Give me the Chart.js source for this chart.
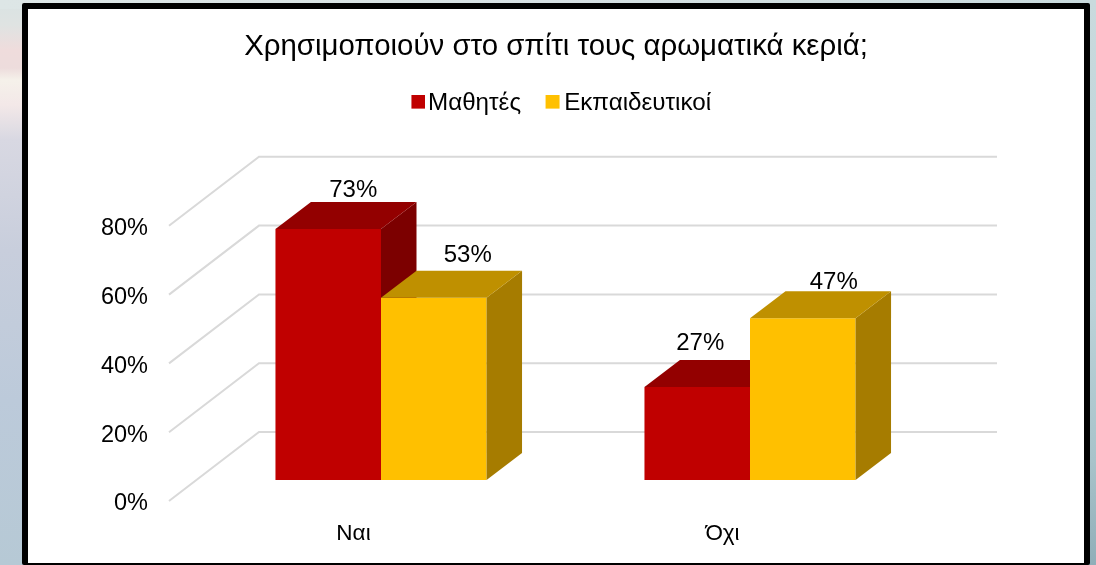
<!DOCTYPE html>
<html>
<head>
<meta charset="utf-8">
<script src="https://cdn.jsdelivr.net/npm/chart.js@4"></script>
<style>
html,body{margin:0;padding:0;width:1096px;height:565px;overflow:hidden}
body{position:relative;background:
 linear-gradient(180deg,#d9e3e3 0,#dfe3e2 25px,#efdcdc 50px,#eddcdc 68px,#f5f1ea 80px,#f3e8e8 105px,#d8d8e2 140px,#c8cedc 250px,#bccada 400px,#b6c9d5 565px)}
#right{position:absolute;left:1084px;top:0;width:12px;height:565px;background:linear-gradient(180deg,#c9dadd 0,#bcd2d8 300px,#a8c3ca 460px,#90aeb8 565px)}
#top{position:absolute;left:0;top:0;width:1096px;height:9px;background:linear-gradient(90deg,#dde6e6,#d6e0e2 50%,#c9dadd)}
#frame{position:absolute;left:22px;top:3px;width:1056px;height:554px;border:6px solid #000;border-bottom-width:2px;border-radius:2px;background:#fff}
#c{position:absolute;left:0;top:0;width:1056px;height:554px}
</style>
</head>
<body>
<div id="top"></div><div id="right"></div>
<div id="frame"><canvas id="c" width="1056" height="554"></canvas></div>
<script>
const categories = ['Ναι', 'Όχι'];
const pupils = [73, 27];
const teachers = [53, 47];
const seriesNames = ['Μαθητές', 'Εκπαιδευτικοί'];
const chartTitle = 'Χρησιμοποιούν στο σπίτι τους αρωματικά κεριά;';
const tickStep = 20;
const lastTick = 80;

const FONT = '"Liberation Sans", Arial, sans-serif';
const front = ['#C00000', '#FFC000'];
const topFace = ['#930000', '#BF9000'];
const sideFace = ['#7C0000', '#A67C00'];
const DEPTH_X = 35.5, DEPTH_Y = 27;
const WALL_DX = 90, WALL_DY = 69, FLOOR_DROP = 21, WALL_RIGHT = 969;
// hand-placed data label offsets from the centre of each bar's front-top edge
const labelShift = [[[25, -39], [3, -44]], [[34, -42], [31, -36]]];
const swatchInset = [12, 10];

function swatch(color, inset) {
  const s = document.createElement('canvas');
  s.width = 26; s.height = 18;
  const g = s.getContext('2d');
  g.fillStyle = color; g.fillRect(inset, 0, 14, 14);
  return s;
}
const swatches = front.map((c, i) => swatch(c, swatchInset[i]));

function drawDepth(ctx, meta, i) {
  ctx.save();
  meta.data.forEach(bar => {
    const l = bar.x - bar.width / 2, r = bar.x + bar.width / 2, t = bar.y, b = bar.base;
    ctx.fillStyle = sideFace[i];
    ctx.beginPath();
    ctx.moveTo(r, t); ctx.lineTo(r + DEPTH_X, t - DEPTH_Y);
    ctx.lineTo(r + DEPTH_X, b - DEPTH_Y); ctx.lineTo(r, b);
    ctx.closePath(); ctx.fill();
    ctx.fillStyle = topFace[i];
    ctx.beginPath();
    ctx.moveTo(l, t); ctx.lineTo(l + DEPTH_X, t - DEPTH_Y);
    ctx.lineTo(r + DEPTH_X, t - DEPTH_Y); ctx.lineTo(r, t);
    ctx.closePath(); ctx.fill();
  });
  ctx.restore();
}

const depthPlugin = {
  id: 'depth',
  afterLayout(chart) {
    chart.legend.left += 4;
    chart.legend.right += 4;
  },
  beforeDatasetsDraw(chart) {
    const { ctx, scales: { y }, chartArea } = chart;
    ctx.save();
    ctx.strokeStyle = '#d9d9d9';
    ctx.lineWidth = 2;
    y.ticks.forEach(t => {
      const py = y.getPixelForValue(t.value) + FLOOR_DROP;
      const x0 = chartArea.left - 27.5;
      ctx.beginPath();
      ctx.moveTo(x0, py);
      ctx.lineTo(x0 + WALL_DX, py - WALL_DY);
      ctx.lineTo(WALL_RIGHT, py - WALL_DY);
      ctx.stroke();
    });
    ctx.restore();
    drawDepth(ctx, chart.getDatasetMeta(0), 0);
  },
  afterDatasetDraw(chart, args) {
    if (args.index === 1) drawDepth(chart.ctx, args.meta, 1);
  },
  afterDraw(chart) {
    const { ctx } = chart;
    ctx.save();
    ctx.font = '24px ' + FONT;
    ctx.fillStyle = '#000';
    ctx.textAlign = 'center';
    ctx.textBaseline = 'middle';
    chart.data.datasets.forEach((ds, i) => {
      chart.getDatasetMeta(i).data.forEach((bar, k) => {
        const s = labelShift[i][k];
        ctx.fillText(ds.data[k] + '%', bar.x + s[0], bar.y + s[1]);
      });
    });
    ctx.restore();
  }
};

new Chart(document.getElementById('c'), {
  type: 'bar',
  data: {
    labels: categories,
    datasets: [
      { label: seriesNames[0], data: pupils, backgroundColor: front[0] },
      { label: seriesNames[1], data: teachers, backgroundColor: front[1] }
    ]
  },
  options: {
    responsive: false,
    animation: false,
    layout: { padding: { left: 0, right: 0, top: 0, bottom: 18 } },
    datasets: { bar: { categoryPercentage: 0.572, barPercentage: 1 } },
    scales: {
      x: {
        afterFit(s) { s.height = 65; },
        grid: { display: false, drawTicks: false },
        border: { display: false },
        ticks: { color: '#000', font: { family: FONT, size: 22.5 }, padding: 40, labelOffset: -27.5, maxRotation: 0 }
      },
      y: {
        min: 0, max: 103,
        afterFit(s) { s.width = 168.5; },
        afterBuildTicks(s) { s.ticks = s.ticks.filter(t => t.value <= lastTick); },
        grid: { display: false, drawTicks: false },
        border: { display: false },
        ticks: {
          stepSize: tickStep, includeBounds: false, color: '#000',
          font: { family: FONT, size: 23.5 }, padding: 48.5, labelOffset: 24,
          callback: v => v + '%'
        }
      },
      spacer: {
        position: 'right', min: 0, max: 103,
        afterFit(s) { s.width = 149.5; },
        grid: { display: false, drawTicks: false },
        border: { display: false },
        ticks: { display: false }
      }
    },
    plugins: {
      tooltip: { enabled: false },
      title: {
        display: true, text: chartTitle, color: '#000',
        font: { family: FONT, size: 29.4, weight: 'normal' },
        padding: { top: 20.4, bottom: 2.8 }
      },
      legend: {
        position: 'top',
        labels: {
          color: '#000', font: { family: FONT, size: 24.2 },
          usePointStyle: true, pointStyleWidth: 7, boxHeight: 14, padding: 24,
          generateLabels(chart) {
            const items = Chart.defaults.plugins.legend.labels.generateLabels(chart);
            items.forEach((it, i) => { it.pointStyle = swatches[i]; });
            return items;
          }
        }
      }
    }
  },
  plugins: [depthPlugin]
});
</script>
</body>
</html>
